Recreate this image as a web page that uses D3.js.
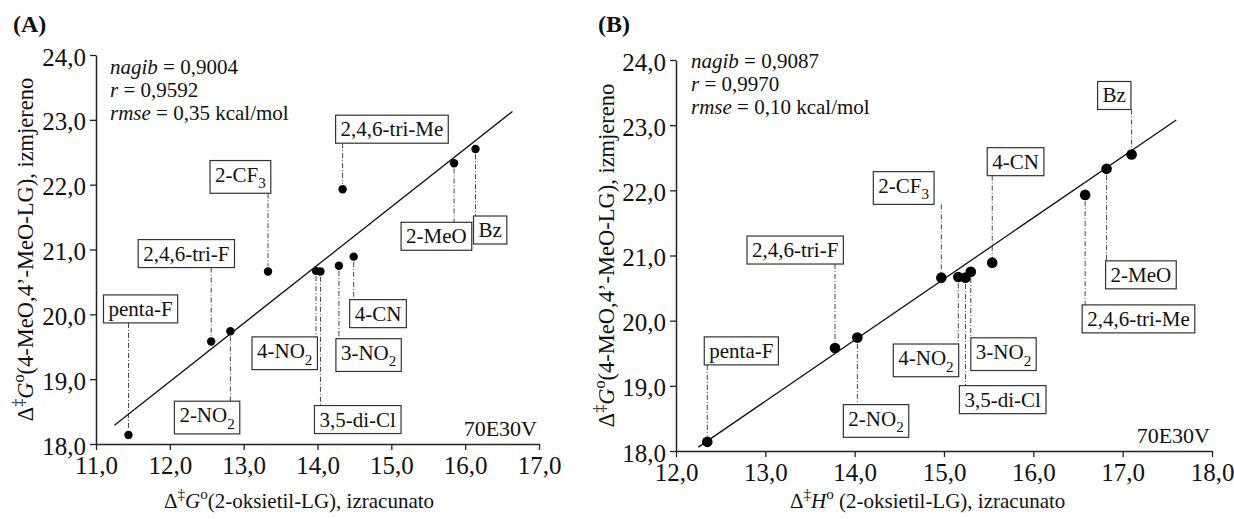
<!DOCTYPE html>
<html>
<head>
<meta charset="utf-8">
<script src="https://cdn.jsdelivr.net/npm/d3@7"></script>
<style>
  body { margin: 0; background: #fff; }
  svg { display: block; font-family: "Liberation Serif", "DejaVu Serif", serif; }
</style>
</head>
<body>
<svg width="1234" height="519"></svg>
<script>
// Data
var substituents = ["penta-F", "2,4,6-tri-F", "2-NO_2", "2-CF_3", "4-NO_2", "3,5-di-Cl", "3-NO_2", "4-CN", "2,4,6-tri-Me", "2-MeO", "Bz"];
var measuredG = [18.14, 19.58, 19.74, 20.66, 20.67, 20.66, 20.75, 20.89, 21.93, 22.33, 22.55];
var calcG = [11.44, 12.56, 12.82, 13.33, 13.98, 14.04, 14.29, 14.49, 14.34, 15.85, 16.14];
var calcH = [12.35, 13.78, 14.03, 14.97, 15.16, 15.24, 15.30, 15.54, 16.58, 16.82, 17.10];

var fitA = [[11.25, 18.29], [16.64, 23.13]];
var fitB = [[12.25, 18.06], [17.60, 23.08]];

var statsA = ["0,9004", "0,9592", "0,35"];
var statsB = ["0,9087", "0,9970", "0,10"];

var xTicksA = [11, 12, 13, 14, 15, 16, 17];
var xTicksB = [12, 13, 14, 15, 16, 17, 18];
var yTicks = [18, 19, 20, 21, 22, 23, 24];

// label box placement (pixel offset of box corner from its point)
var labelPosA = {
  "penta-F": [-25, -140], "2,4,6-tri-F": [-73, -102], "2-NO_2": [-56, 70], "2-CF_3": [-58, -111],
  "4-NO_2": [-64, 66], "3,5-di-Cl": [-6, 134], "3-NO_2": [-3, 73], "4-CN": [-4, 43],
  "2,4,6-tri-Me": [-7, -74], "2-MeO": [-53, 59], "Bz": [-2, 67]
};
var labelPosB = {
  "penta-F": [-3, -105], "2,4,6-tri-F": [-88, -112], "2-NO_2": [-14, 67], "2-CF_3": [-68, -106],
  "4-NO_2": [-65, 67], "3,5-di-Cl": [-6, 108], "3-NO_2": [0, 66], "4-CN": [-5, -115],
  "2,4,6-tri-Me": [-3, 110], "2-MeO": [-1, 92], "Bz": [-34, -73]
};

var svg = d3.select("svg");
var fmt = function(d) { return d3.format(".1f")(d).replace(".", ","); };

// write text made of pieces (italic / sup / sub)
function addSegs(text, segs, fs) {
  var shift = 0;
  segs.forEach(function(s) {
    var target = s.sup ? -0.42 * fs : (s.sub ? 0.32 * fs : 0);
    var ts = text.append("tspan").text(s.t).attr("dy", target - shift);
    if (s.sup || s.sub) ts.attr("font-size", fs * 0.72);
    if (s.it) ts.attr("font-style", "italic");
    shift = target;
  });
}

function labelSegs(name) {
  var parts = name.split("_");
  var segs = [{t: parts[0]}];
  if (parts.length > 1) segs.push({t: parts[1], sub: true});
  return segs;
}

function drawPanel(p) {
  var x = d3.scaleLinear().domain([p.xTicks[0], p.xTicks[p.xTicks.length - 1]]).range([p.left, p.right]);
  var y = d3.scaleLinear().domain([18, 24]).range([p.bottom, p.top]);
  var g = svg.append("g");

  // axes
  var ax = g.append("g").attr("transform", "translate(0," + p.bottom + ")")
    .call(d3.axisBottom(x).tickValues(p.xTicks).tickFormat(fmt).tickSize(6).tickSizeOuter(0).tickPadding(6));
  var ay = g.append("g").attr("transform", "translate(" + p.left + ",0)")
    .call(d3.axisLeft(y).tickValues(yTicks).tickFormat(fmt).tickSize(6).tickSizeOuter(0).tickPadding(4));
  [ax, ay].forEach(function(a) {
    a.select(".domain").attr("stroke", "#222").attr("stroke-width", 1.5);
    a.selectAll(".tick line").attr("stroke", "#222").attr("stroke-width", 1.3);
    a.selectAll("text").attr("font-family", "Liberation Serif").attr("font-size", 25).attr("fill", "#111");
  });
  ay.selectAll("text").attr("dy", "0.4em");

  // regression line
  g.append("line")
    .attr("x1", x(p.fit[0][0])).attr("y1", y(p.fit[0][1]))
    .attr("x2", x(p.fit[1][0])).attr("y2", y(p.fit[1][1]))
    .attr("stroke", "#111").attr("stroke-width", 1.3);

  // labels with leaders
  var pts = substituents.map(function(s, i) { return {name: s, x: p.xs[i], y: measuredG[i]}; });
  pts.forEach(function(d) {
    var px = x(d.x), py = y(d.y);
    var off = p.pos[d.name];
    var lg = g.append("g");
    var t = lg.append("text").attr("font-size", 21).attr("fill", "#111");
    addSegs(t, labelSegs(d.name), 21);
    var bb = t.node().getBBox();
    var rx = bb.x - 5, ry = bb.y - 2, rw = bb.width + 10, rh = bb.height + 4;
    lg.insert("rect", "text").attr("x", rx).attr("y", ry).attr("width", rw).attr("height", rh)
      .attr("fill", "#fff").attr("stroke", "#333").attr("stroke-width", 1.2);
    var bx = px + off[0], by = py + off[1];
    lg.attr("transform", "translate(" + (bx - rx) + "," + (by - ry) + ")");
    var y1, y2;
    if (off[1] > 0) { y1 = py + p.r + 1; y2 = by; }
    else { y1 = by + rh; y2 = py - p.r - 1; }
    g.insert("line", "g").attr("x1", px).attr("x2", px).attr("y1", y1).attr("y2", y2)
      .attr("stroke", "#444").attr("stroke-width", 1).attr("stroke-dasharray", "5,2,1,2");
  });

  // points
  g.selectAll("circle").data(pts).enter().append("circle")
    .attr("cx", function(d) { return x(d.x); })
    .attr("cy", function(d) { return y(d.y); })
    .attr("r", p.r).attr("fill", "#000");

  // stats
  var st = [
    [{t: "nagib", it: true}, {t: " = " + p.stats[0]}],
    [{t: "r", it: true}, {t: " = " + p.stats[1]}],
    [{t: "rmse", it: true}, {t: " = " + p.stats[2] + " kcal/mol"}]
  ];
  st.forEach(function(s, i) {
    var t = g.append("text").attr("x", p.statX).attr("y", p.statY + i * 23).attr("font-size", 21).attr("fill", "#111");
    addSegs(t, s, 21);
  });

  g.append("text").attr("x", p.right - 2).attr("y", p.bottom - 8).attr("text-anchor", "end")
    .attr("font-size", 22).attr("fill", "#111").text("70E30V");

  g.append("text").attr("x", p.tagX).attr("y", 32).attr("font-size", 24).attr("font-weight", "bold")
    .attr("fill", "#111").text(p.tag);

  // axis titles
  var xt = g.append("text").attr("x", p.xTitleX).attr("y", 508).attr("font-size", 21).attr("fill", "#111");
  addSegs(xt, p.xTitle, 21);
  var yt = g.append("text").attr("text-anchor", "middle").attr("font-size", 22.5).attr("fill", "#111")
    .attr("transform", "translate(" + p.yTitleX + "," + ((p.top + p.bottom) / 2) + ") rotate(-90)");
  addSegs(yt, [{t: "\u0394"}, {t: "\u2021", sup: true}, {t: "G", it: true}, {t: "o", sup: true}, {t: "(4-MeO,4\u2019-MeO-LG), izmjereno"}], 22.5);
}

drawPanel({
  left: 96, right: 539, top: 55, bottom: 444, xTicks: xTicksA, xs: calcG, fit: fitA, pos: labelPosA, r: 4.2,
  stats: statsA, statX: 110, statY: 74, tag: "(A)", tagX: 13, xTitleX: 164, yTitleX: 33,
  xTitle: [{t: "\u0394"}, {t: "\u2021", sup: true}, {t: "G", it: true}, {t: "o", sup: true}, {t: "(2-oksietil-LG), izracunato"}]
});
drawPanel({
  left: 676, right: 1212, top: 60, bottom: 451, xTicks: xTicksB, xs: calcH, fit: fitB, pos: labelPosB, r: 5.3,
  stats: statsB, statX: 691, statY: 68, tag: "(B)", tagX: 598, xTitleX: 790, yTitleX: 614,
  xTitle: [{t: "\u0394"}, {t: "\u2021", sup: true}, {t: "H", it: true}, {t: "o", sup: true}, {t: " (2-oksietil-LG), izracunato"}]
});
</script>
</body>
</html>
